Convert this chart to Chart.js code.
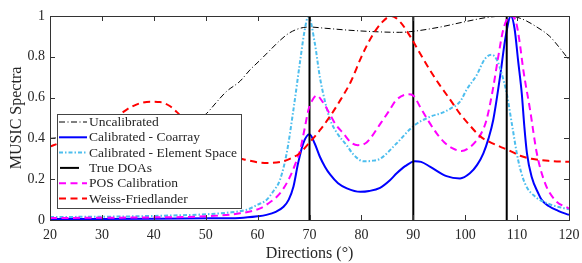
<!DOCTYPE html>
<html><head><meta charset="utf-8">
<script src="https://cdn.jsdelivr.net/npm/chart.js@4/dist/chart.umd.min.js"></script>
<style>html,body{margin:0;padding:0;background:#fff}#wrap{width:582px;height:263px;position:relative}</style>
</head><body><div id="wrap"><canvas id="c" width="582" height="263"></canvas></div>
<script>
const xTicks = [20,30,40,50,60,70,80,90,100,110,120];
const yTicks = [0,0.2,0.4,0.6,0.8,1];
const yTickLabels = ['0','0.2','0.4','0.6','0.8','1'];
const trueDOAs = [70, 90, 108];

const uncalX = [20,30,40,46,49,50.2,52,54,56.6,58.5,60.5,62.5,64.3,66,68.2,70,73,77.8,83.6,87.4,90,95,99.6,104.8,108.5,111,113.8,116.3,118,120];
const uncalY = [0.40,0.42,0.45,0.48,0.50,0.523,0.575,0.63,0.68,0.735,0.784,0.835,0.88,0.915,0.94,0.946,0.94,0.93,0.922,0.92,0.925,0.945,0.97,0.995,1.0,0.985,0.946,0.90,0.85,0.785];

const coaX = [20,30,40,50,56.6,60,61.7,63.5,65,66,66.9,67.8,68.8,70,71,72,73,74,75.5,77.2,79.8,81.5,83.6,85.5,86.8,88.5,90.3,91.5,93.2,96.4,99,100.9,102.3,103.5,104.5,105.4,106.7,107.8,108.8,109.5,110.2,110.9,111.4,111.9,112.8,114.1,114.7,116,117.9,120];
const coaY = [0.005,0.005,0.006,0.008,0.01,0.018,0.025,0.04,0.065,0.10,0.163,0.278,0.376,0.42,0.375,0.31,0.26,0.222,0.18,0.155,0.138,0.142,0.158,0.195,0.229,0.265,0.288,0.285,0.262,0.215,0.204,0.229,0.27,0.327,0.40,0.49,0.70,0.90,1.0,0.94,0.78,0.62,0.457,0.327,0.212,0.13,0.10,0.07,0.045,0.025];

const elemX = [20,30,40,50,55,57.9,60,61.7,63,64.3,65.6,66.9,68.2,69,69.8,71,72,73,74,75.2,77.2,78.5,80.4,82,83.6,86.8,90,93.2,95.5,97.1,99,100.3,102.2,103.8,105.1,106.2,107,108,109,110.2,111.5,113.5,116,118,120];
const elemY = [0.015,0.016,0.02,0.028,0.038,0.05,0.075,0.098,0.14,0.196,0.327,0.54,0.78,0.92,1.0,0.87,0.70,0.58,0.49,0.43,0.365,0.32,0.288,0.29,0.30,0.376,0.46,0.506,0.525,0.545,0.58,0.64,0.71,0.79,0.81,0.78,0.72,0.62,0.47,0.294,0.18,0.114,0.08,0.064,0.052];

const posX = [20,30,40,50,56.6,60.5,62,63.7,65,66.2,67.2,68.2,69,69.8,70.6,71.4,72.5,73.9,75,76.5,78,79.3,81,83.6,85.2,86.8,89,90,91.3,92.8,94.5,96,97.5,99.3,100.8,102.2,103.2,104.1,105.4,106.3,107.3,108.2,109,109.8,110.5,111.2,112.5,113.8,115.4,117.3,120];
const posY = [0.01,0.011,0.013,0.018,0.033,0.057,0.08,0.114,0.155,0.21,0.27,0.343,0.44,0.54,0.59,0.61,0.58,0.52,0.47,0.425,0.38,0.367,0.38,0.47,0.53,0.59,0.616,0.61,0.555,0.49,0.425,0.38,0.352,0.338,0.355,0.39,0.43,0.49,0.65,0.79,0.93,0.99,1.0,0.97,0.87,0.735,0.54,0.327,0.18,0.098,0.056];

const wfX = [20,22,25,28,30.9,33,35,37.3,39.3,41.2,43,44.4,47,50,53,55.5,57.9,60,62.4,64.5,66.2,68,70,72,74,76,78,80,82,84,85.8,87.5,89.4,91,93.2,95,97.1,99,100.5,102.9,104.5,106.7,108.3,110.6,112.8,116,120];
const wfY = [0.36,0.38,0.42,0.45,0.48,0.51,0.545,0.572,0.58,0.578,0.56,0.53,0.46,0.40,0.34,0.31,0.294,0.283,0.28,0.285,0.30,0.325,0.38,0.44,0.51,0.59,0.68,0.80,0.90,0.97,1.0,0.97,0.90,0.83,0.735,0.665,0.59,0.52,0.475,0.41,0.385,0.36,0.343,0.315,0.30,0.29,0.285];

const seriesNames = ['Uncalibrated','Calibrated - Coarray','Calibrated - Element Space','True DOAs','POS Calibration','Weiss-Friedlander'];

const FONT = "'Liberation Serif', 'Times New Roman', serif";
const pts = (xs, ys) => xs.map((x, i) => ({x: x, y: ys[i]}));
const doaPts = [];
trueDOAs.forEach(d => { doaPts.push({x: d, y: 0}, {x: d, y: 1}, {x: d, y: null}); });

const styles = [
  {color: '#000000', width: 1, dash: [6, 2.5, 1, 2.5]},
  {color: '#0000ff', width: 2, dash: []},
  {color: '#4dbeee', width: 2, dash: [4, 2, 1.5, 2]},
  {color: '#000000', width: 2, dash: []},
  {color: '#ff00ff', width: 2, dash: [7, 4.5]},
  {color: '#ff0000', width: 2, dash: [7, 4.5]}
];

const dataArr = [pts(uncalX, uncalY), pts(coaX, coaY), pts(elemX, elemY), doaPts, pts(posX, posY), pts(wfX, wfY)];
const datasets = dataArr.map((d, i) => ({
  label: seriesNames[i],
  data: d,
  borderColor: styles[i].color,
  borderWidth: styles[i].width,
  borderDash: styles[i].dash,
  pointRadius: 0,
  fill: false,
  tension: i === 3 ? 0 : 0.4,
  cubicInterpolationMode: i === 3 ? 'default' : 'monotone',
  spanGaps: false,
  order: 6 - i
}));

const framePlugin = {
  id: 'frame',
  afterDatasetsDraw(chart) {
    const {ctx, chartArea: a, scales: {x, y}} = chart;
    ctx.save();
    ctx.strokeStyle = '#333';
    ctx.lineWidth = 1;
    ctx.setLineDash([]);
    ctx.beginPath();
    xTicks.forEach(v => {
      const px = Math.round(x.getPixelForValue(v)) + 0.5;
      ctx.moveTo(px, a.bottom); ctx.lineTo(px, a.bottom - 5);
      ctx.moveTo(px, a.top); ctx.lineTo(px, a.top + 5);
    });
    yTicks.forEach(v => {
      const py = Math.round(y.getPixelForValue(v)) + 0.5;
      ctx.moveTo(a.left, py); ctx.lineTo(a.left + 5, py);
      ctx.moveTo(a.right, py); ctx.lineTo(a.right - 5, py);
    });
    ctx.stroke();
    ctx.strokeRect(Math.round(a.left) + 0.5, Math.round(a.top) + 0.5, Math.round(a.right - a.left), Math.round(a.bottom - a.top));

    // legend
    const bx = 57.5, by = 114.5, bw = 184, bh = 94;
    ctx.fillStyle = '#fff';
    ctx.fillRect(bx, by, bw, bh);
    ctx.strokeStyle = '#444';
    ctx.strokeRect(bx, by, bw, bh);
    ctx.font = '13.5px ' + FONT;
    ctx.textBaseline = 'middle';
    ctx.textAlign = 'left';
    seriesNames.forEach((n, i) => {
      const yy = 122 + i * 15.3;
      const s = styles[i];
      ctx.strokeStyle = s.color;
      ctx.lineWidth = s.width;
      ctx.setLineDash(s.dash);
      ctx.beginPath();
      if (i === 3) { ctx.moveTo(60, yy); ctx.lineTo(79, yy); }
      else { ctx.moveTo(59, yy); ctx.lineTo(87, yy); }
      ctx.stroke();
      ctx.fillStyle = '#262626';
      ctx.fillText(n, 89, yy + 0.5);
    });
    ctx.restore();
  }
};

new Chart(document.getElementById('c'), {
  type: 'line',
  data: {datasets: datasets},
  options: {
    responsive: false,
    animation: false,
    events: [],
    layout: {padding: {left: 0, right: 13, top: 16, bottom: 0}},
    plugins: {legend: {display: false}, tooltip: {enabled: false}},
    scales: {
      x: {
        type: 'linear', min: 20, max: 120,
        afterBuildTicks: s => { s.ticks = xTicks.map(v => ({value: v})); },
        afterFit: s => { s.height = 43; s.paddingLeft = 0; s.paddingRight = 0; },
        grid: {display: false, drawTicks: false},
        border: {display: false},
        ticks: {padding: 7, color: '#262626', font: {family: FONT, size: 14}, maxRotation: 0},
        title: {display: true, text: 'Directions (°)', color: '#262626', font: {family: FONT, size: 16}, padding: {top: 0, bottom: 0}}
      },
      y: {
        type: 'linear', min: 0, max: 1,
        afterBuildTicks: s => { s.ticks = yTicks.map(v => ({value: v})); },
        afterFit: s => { s.width = 50; s.paddingTop = 0; s.paddingBottom = 0; },
        grid: {display: false, drawTicks: false},
        border: {display: false},
        ticks: {padding: 5, color: '#262626', font: {family: FONT, size: 14},
          callback: (v) => { const k = yTicks.indexOf(v); return k >= 0 ? yTickLabels[k] : ''; }},
        title: {display: true, text: 'MUSIC Spectra', color: '#262626', font: {family: FONT, size: 16}, padding: {top: 7, bottom: 0}}
      }
    }
  },
  plugins: [framePlugin]
});
</script>
</body></html>
